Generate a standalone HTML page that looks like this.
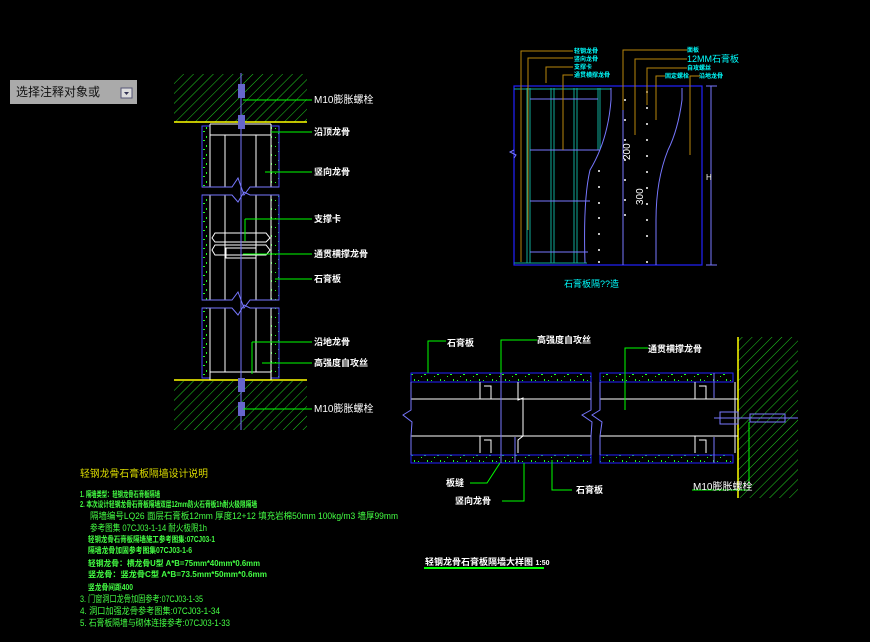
<!DOCTYPE html>
<html><head><meta charset="utf-8"><style>
html,body{margin:0;padding:0;background:#000;width:870px;height:642px;overflow:hidden}
svg{display:block}
text{font-family:"Liberation Sans","Noto Sans CJK SC",sans-serif}
</style></head><body>
<svg width="870" height="642" viewBox="0 0 870 642" xmlns="http://www.w3.org/2000/svg">
<defs>
<pattern id="h" width="7" height="7" patternUnits="userSpaceOnUse" patternTransform="rotate(45)">
<rect width="7" height="7" fill="#000"/><line x1="0" y1="0" x2="0" y2="7" stroke="#1fcf1f" stroke-width="1"/></pattern>
<pattern id="g" width="13" height="9" patternUnits="userSpaceOnUse">
<rect width="13" height="9" fill="#000"/><rect x="2" y="2" width="1" height="1" fill="#2f2"/><rect x="8" y="5" width="2" height="1" fill="#2f2"/><rect x="5" y="7" width="1" height="1" fill="#2f2"/><rect x="11" y="1" width="1" height="2" fill="#2f2"/></pattern>
</defs>
<rect width="870" height="642" fill="#000"/>
<rect x="10" y="80" width="127" height="24" fill="#aaa"/>
<text x="16" y="96" font-size="12" fill="#111">选择注释对象或</text>
<rect x="121" y="88" width="11" height="10" fill="#ddd" stroke="#557"/>
<path d="M124 92 L129 92 L126.5 95Z" fill="#335"/>

<rect x="174" y="74" width="133" height="48" fill="url(#h)"/>
<rect x="174" y="381" width="133" height="49" fill="url(#h)"/>
<line x1="174" y1="122" x2="307" y2="122" stroke="#ff0" stroke-width="1.5"/>
<line x1="174" y1="380" x2="307" y2="380" stroke="#ff0" stroke-width="1.5"/>
<g fill="url(#g)" stroke="#44f">
<rect x="202" y="126" width="8" height="61"/><rect x="271" y="126" width="8" height="61"/>
<rect x="202" y="195" width="8" height="105"/><rect x="271" y="195" width="8" height="105"/>
<rect x="202" y="308" width="8" height="70"/><rect x="271" y="308" width="8" height="70"/>
</g>
<g stroke="#fff" stroke-width="1" fill="none">
<path d="M210 124V187M225 135V187M256 135V187M271 124V187"/>
<path d="M210 195V300M225 195V300M256 195V300M271 195V300"/>
<path d="M210 308V380M225 308V372M256 308V372M271 308V380"/>
<path d="M210 124H271M210 135H271M210 372H271"/>
<path d="M215 233H266L270 238L266 242H215L212 238Z M215 245H266L270 250L266 255H215L212 250Z"/>
<rect x="226" y="248" width="30" height="10"/>
</g>
<g stroke="#77f" fill="none">
<path d="M202 187H232L238 178L244 195L250 187H279M202 195H232L238 202L244 192L250 195H279"/>
<path d="M202 300H232L238 292L244 308L250 300H279M202 308H232L238 315L244 305L250 308H279"/>
<path d="M241 73V430"/>
</g>
<rect x="238" y="84" width="7" height="14" fill="#66c"/><rect x="238" y="115" width="7" height="14" fill="#66c"/>
<rect x="238" y="378" width="7" height="14" fill="#66c"/><rect x="238" y="402" width="7" height="14" fill="#66c"/>
<g stroke="#0f0" fill="none">
<path d="M243 100H312M271 132H312M265 172H312M245 219H312V219M245 219V241M243 254H312M275 279H312M252 342H312M252 342V374M262 363H312M243 409H312"/>
</g>
<g fill="#fff" font-size="9" font-weight="bold">
<text x="314" y="103" font-size="10" font-weight="normal">M10膨胀螺栓</text>
<text x="314" y="135">沿顶龙骨</text>
<text x="314" y="175">竖向龙骨</text>
<text x="314" y="222">支撑卡</text>
<text x="314" y="257">通贯横撑龙骨</text>
<text x="314" y="282">石膏板</text>
<text x="314" y="345">沿地龙骨</text>
<text x="314" y="366">高强度自攻丝</text>
<text x="314" y="412" font-size="10" font-weight="normal">M10膨胀螺栓</text>
</g>

<rect x="514" y="86" width="188" height="179" fill="none" stroke="#22f" stroke-width="1.2"/>
<g stroke="#1a9" fill="none">
<path d="M514 89H611M514 263H587M527 88V263M530 88V263M551 88V263M554 88V263M574 88V263M577 88V263M598 88V150M600 88V150"/>
</g>
<g stroke="#77f" fill="none">
<path d="M530 99H598M530 150H600M530 201H590M530 252H588"/>
<path d="M611 88V100Q608 140 590 170Q583 200 585 263"/>
<path d="M623 86V265"/>
<path d="M682 88V100Q678 130 668 150Q656 180 656 220V265"/>
<path d="M711 86V265M706 86H717M706 265H717"/>
<path d="M514 150L510 152L516 155L514 158"/>
</g>
<g fill="#fff"><text x="706" y="180" font-size="8">H</text></g>
<g fill="#fff">
<circle cx="625" cy="100" r="1"/><circle cx="625" cy="120" r="1"/><circle cx="625" cy="140" r="1"/><circle cx="625" cy="160" r="1"/><circle cx="625" cy="180" r="1"/><circle cx="625" cy="200" r="1"/><circle cx="625" cy="215" r="1"/>
<circle cx="647" cy="92" r="1"/><circle cx="647" cy="108" r="1"/><circle cx="647" cy="124" r="1"/><circle cx="647" cy="140" r="1"/><circle cx="647" cy="156" r="1"/><circle cx="647" cy="172" r="1"/><circle cx="647" cy="188" r="1"/><circle cx="647" cy="204" r="1"/><circle cx="647" cy="220" r="1"/><circle cx="647" cy="236" r="1"/><circle cx="647" cy="262" r="1"/>
<circle cx="599" cy="171" r="1"/><circle cx="599" cy="187" r="1"/><circle cx="599" cy="203" r="1"/><circle cx="599" cy="218" r="1"/><circle cx="599" cy="234" r="1"/><circle cx="599" cy="250" r="1"/><circle cx="599" cy="262" r="1"/>
</g>
<text x="0" y="0" font-size="10" fill="#fff" transform="translate(630,160) rotate(-90)">200</text>
<text x="0" y="0" font-size="10" fill="#fff" transform="translate(643,205) rotate(-90)">300</text>
<g stroke="#b8860b" fill="none">
<path d="M521 262V51H573M528 230V58H573M546 83V67H573M563 150V75H573M623 110V50H687M635 135V59H687M647 105V68H687M656 120V76H665M690 155V76H700"/>
</g>
<g fill="#0ff" font-size="6" font-weight="bold">
<text x="574" y="53">轻钢龙骨</text><text x="574" y="61">竖向龙骨</text><text x="574" y="69">支撑卡</text><text x="574" y="77">通贯横撑龙骨</text>
<text x="687" y="52">面板</text><text x="687" y="62" font-size="9" font-weight="normal">12MM石膏板</text><text x="687" y="70">自攻螺丝</text><text x="665" y="78">固定螺栓</text><text x="699" y="78">沿地龙骨</text>
</g>
<text x="564" y="287" font-size="9" fill="#0ff">石膏板隔??造</text>

<rect x="738" y="337" width="60" height="161" fill="url(#h)"/>
<line x1="738" y1="337" x2="738" y2="498" stroke="#ff0" stroke-width="1.5"/>
<g fill="url(#g)" stroke="#22f">
<rect x="411" y="373" width="180" height="9"/><rect x="411" y="455" width="180" height="8"/>
<rect x="600" y="373" width="133" height="9"/><rect x="600" y="455" width="133" height="8"/>
</g>
<g stroke="#fff" fill="none">
<path d="M411 399H591M411 436H591M600 399H738M600 436H738M480 382V399M480 436V453M518 382V400L523 398V436L518 440V453M695 382V399M695 436V453M735 382V453"/>
<path d="M484 386H491V399M484 440H491V453M699 386H706V399M699 440H706V453"/>
</g>
<g stroke="#77f" fill="none">
<path d="M411 382V410L403 415L412 422L411 436V455M591 382V410L582 415L592 422L591 436V455M600 382V410L592 415L602 422L600 436V455"/>
<path d="M714 418H798M720 412H738V424H720Z M750 414H785V422H750Z"/>
<path d="M501 373V463M515 437V463M714 373V398M714 437V463"/>
</g>
<g stroke="#0f0" fill="none">
<path d="M428 373V341H446M501 373V340H537M625 410V348H648M500 463L487 483H470M524 463V501H502M552 460V490H572M749 422V490H692"/>
</g>
<g fill="#fff" font-size="9" font-weight="bold">
<text x="447" y="346">石膏板</text><text x="537" y="343">高强度自攻丝</text><text x="648" y="352">通贯横撑龙骨</text>
<text x="446" y="486">板缝</text><text x="455" y="504">竖向龙骨</text><text x="576" y="493">石膏板</text>
<text x="693" y="490" font-size="10" font-weight="normal">M10膨胀螺栓</text>
<text x="425" y="565" font-size="9">轻钢龙骨石膏板隔墙大样图 <tspan font-size="7">1:50</tspan></text>
</g>
<rect x="424" y="567" width="120" height="2" fill="#0f0"/>

<text x="80" y="477" font-size="10" fill="#dd0" textLength="128" lengthAdjust="spacingAndGlyphs">轻钢龙骨石膏板隔墙设计说明</text>
<g fill="#4f4" font-size="8" font-weight="bold">
<text x="80" y="497" textLength="80" lengthAdjust="spacingAndGlyphs">1. 隔墙类型：轻钢龙骨石膏板隔墙</text>
<text x="80" y="507" textLength="177" lengthAdjust="spacingAndGlyphs">2. 本次设计轻钢龙骨石膏板隔墙双层12mm防火石膏板1h耐火极限隔墙</text>
<text x="90" y="519" textLength="308" lengthAdjust="spacingAndGlyphs" font-weight="normal" font-size="9">隔墙编号LQ26 面层石膏板12mm 厚度12+12 填充岩棉50mm 100kg/m3 墙厚99mm</text>
<text x="90" y="531" textLength="117" lengthAdjust="spacingAndGlyphs" font-weight="normal" font-size="9">参考图集 07CJ03-1-14 耐火极限1h</text>
<text x="88" y="542" textLength="127" lengthAdjust="spacingAndGlyphs">轻钢龙骨石膏板隔墙施工参考图集:07CJ03-1</text>
<text x="88" y="553" textLength="104" lengthAdjust="spacingAndGlyphs">隔墙龙骨加固参考图集07CJ03-1-6</text>
<text x="88" y="566" textLength="172" lengthAdjust="spacingAndGlyphs">轻钢龙骨：横龙骨U型 A*B=75mm*40mm*0.6mm</text>
<text x="88" y="577" textLength="179" lengthAdjust="spacingAndGlyphs">竖龙骨：竖龙骨C型 A*B=73.5mm*50mm*0.6mm</text>
<text x="88" y="590" textLength="45" lengthAdjust="spacingAndGlyphs">竖龙骨间距400</text>
<text x="80" y="602" font-size="9" font-weight="normal" textLength="123" lengthAdjust="spacingAndGlyphs">3. 门窗洞口龙骨加固参考:07CJ03-1-35</text>
<text x="80" y="614" font-size="9" font-weight="normal" textLength="140" lengthAdjust="spacingAndGlyphs">4. 洞口加强龙骨参考图集:07CJ03-1-34</text>
<text x="80" y="626" font-size="9" font-weight="normal" textLength="150" lengthAdjust="spacingAndGlyphs">5. 石膏板隔墙与砌体连接参考:07CJ03-1-33</text>
</g>
</svg>
</body></html>
